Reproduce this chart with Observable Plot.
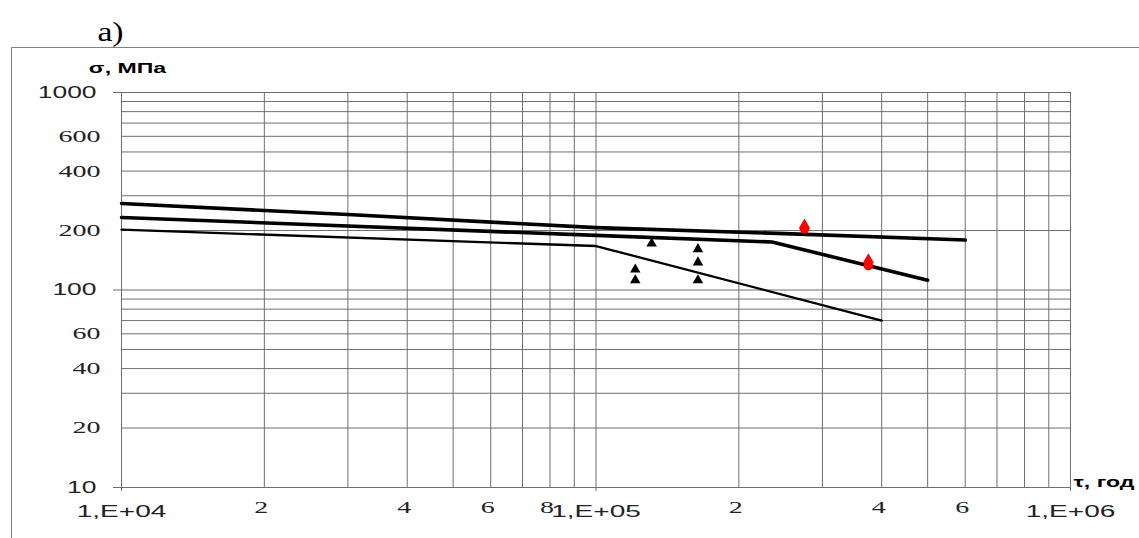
<!DOCTYPE html>
<html><head><meta charset="utf-8">
<script src="https://cdn.jsdelivr.net/npm/d3@7"></script>
<script src="https://cdn.jsdelivr.net/npm/@observablehq/plot@0.6"></script>
<style>
html,body{margin:0;padding:0;background:#fff;overflow:hidden;width:1139px;height:538px;}
#frame{position:absolute;left:11px;top:47px;width:1200px;height:600px;border:1px solid #808080;box-sizing:border-box;}
#chart{position:absolute;left:0;top:0;}
</style></head><body>
<div id="frame"></div><div id="chart"></div>
<script>
const SANS = "'Liberation Sans', Arial, sans-serif";
const SERIF = "'Liberation Serif', 'Times New Roman', serif";

const panelLabel = "а)";
const yTitle = "σ, МПа";
const xTitle = "τ, год";

// tick values and labels
const xMajorTicks = [1e4, 1e5, 1e6];
const xMajorLabels = ["1,E+04", "1,E+05", "1,E+06"];
const xMinorTicks = [2e4, 4e4, 6e4, 8e4, 2e5, 4e5, 6e5];
const xMinorLabels = ["2", "4", "6", "8", "2", "4", "6"];
const xGrid = [1e4, 2e4, 3e4, 4e4, 5e4, 6e4, 7e4, 8e4, 9e4, 1e5, 2e5, 3e5, 4e5, 5e5, 6e5, 7e5, 8e5, 9e5, 1e6];
const yMajorTicks = [10, 100, 1000];
const yMajorLabels = ["10", "100", "1000"];
const yMinorTicks = [20, 40, 60, 200, 400, 600];
const yMinorLabels = ["20", "40", "60", "200", "400", "600"];
const yGrid = [10, 20, 30, 40, 50, 60, 70, 80, 90, 100, 200, 300, 400, 500, 600, 700, 800, 900, 1000];

// curves (tau, sigma in MPa)
const upperTau = [1e4, 3e4, 1e5, 2.5e5, 6e5];
const upperSigma = [274, 241, 207, 193, 179];
const middleTau = [1e4, 1e5, 2.35e5, 5e5];
const middleSigma = [233, 189, 175, 112];
const lowerTau = [1e4, 1e5, 4e5];
const lowerSigma = [202, 167, 70];

// experimental points
const blackTau = [1.21e5, 1.21e5, 1.31e5, 1.64e5, 1.64e5, 1.64e5];
const blackSigma = [127, 112, 172, 161, 138, 112];
const redTriTau = [2.75e5, 3.75e5];
const redTriSigma = [213, 142];
const redDotTau = [2.75e5, 3.75e5];
const redDotSigma = [204, 133];

const rows = (xs, ys) => xs.map((x, i) => ({tau: x, sigma: ys[i]}));
const labelRows = (ticks, labels) => ticks.map((t, i) => ({v: t, label: labels[i]}));
const GRID = "#6e6e6e";
const INK = "#222";

const chart = Plot.plot({
  width: 1139,
  height: 538,
  marginLeft: 121,
  marginRight: 69,
  marginTop: 92,
  marginBottom: 51,
  style: {background: "transparent", overflow: "visible"},
  x: {type: "log", domain: [1e4, 1e6]},
  y: {type: "log", domain: [10, 1000]},
  marks: [
    Plot.ruleX(xGrid, {stroke: GRID, strokeWidth: 1}),
    Plot.ruleY(yGrid, {stroke: GRID, strokeWidth: 1}),
    Plot.axisY(yMajorTicks, {tickSize: 8, stroke: GRID, tickFormat: () => "", label: null}),
    Plot.axisX(xMajorTicks, {tickSize: 4, stroke: GRID, tickFormat: () => "", label: null}),
    Plot.text(labelRows(yMajorTicks, yMajorLabels), {y: "v", text: "label", frameAnchor: "left", dx: -25, textAnchor: "end", lineAnchor: "middle", fill: INK, fontFamily: SANS, fontSize: 16}),
    Plot.text(labelRows(yMinorTicks, yMinorLabels), {y: "v", text: "label", frameAnchor: "left", dx: -21, textAnchor: "end", lineAnchor: "middle", fill: INK, fontFamily: SERIF, fontSize: 17}),
    Plot.text(labelRows(xMajorTicks, xMajorLabels), {x: "v", text: "label", frameAnchor: "bottom", dy: 24, textAnchor: "middle", lineAnchor: "middle", fill: INK, fontFamily: SANS, fontSize: 17}),
    Plot.text(labelRows(xMinorTicks, xMinorLabels), {x: "v", text: "label", frameAnchor: "bottom", dy: 20, dx: -3, textAnchor: "middle", lineAnchor: "middle", fill: INK, fontFamily: SERIF, fontSize: 17}),
    Plot.line(rows(lowerTau, lowerSigma), {x: "tau", y: "sigma", stroke: "#000", strokeWidth: 2.3}),
    Plot.line(rows(middleTau, middleSigma), {x: "tau", y: "sigma", stroke: "#000", strokeWidth: 3.6}),
    Plot.line(rows(upperTau, upperSigma), {x: "tau", y: "sigma", stroke: "#000", strokeWidth: 3.6}),
    Plot.dot(rows(blackTau, blackSigma), {x: "tau", y: "sigma", symbol: "triangle", r: 3.9, fill: "#000", stroke: "none"}),
    Plot.dot(rows(redDotTau, redDotSigma), {x: "tau", y: "sigma", symbol: "circle", r: 4.8, fill: "#ff0000", stroke: "none"}),
    Plot.dot(rows(redTriTau, redTriSigma), {x: "tau", y: "sigma", symbol: "triangle", r: 4.3, fill: "#ff0000", stroke: "none"}),
    Plot.text([panelLabel], {text: d => d, frameAnchor: "top-left", dx: -11, dy: -60, textAnchor: "middle", lineAnchor: "middle", fontFamily: SERIF, fontSize: 27, fill: "#000"}),
    Plot.text([yTitle], {text: d => d, frameAnchor: "top-left", dx: 6, dy: -24, textAnchor: "middle", lineAnchor: "middle", fontFamily: SANS, fontWeight: "bold", fontSize: 14, fill: "#000"}),
    Plot.text([xTitle], {text: d => d, frameAnchor: "bottom-right", dx: 3, dy: -5, textAnchor: "start", lineAnchor: "middle", fontFamily: SANS, fontWeight: "bold", fontSize: 14, fill: "#000"})
  ]
});

document.getElementById("chart").appendChild(chart);

// the reference image is horizontally stretched; widen glyphs accordingly
chart.querySelectorAll("text").forEach(t => {
  const s = t.textContent.trim();
  if (!s) return;
  const f = s === panelLabel ? 1.25 : 1.65;
  const L = t.getComputedTextLength();
  if (L > 0) {
    t.setAttribute("textLength", (L * f).toFixed(1));
    t.setAttribute("lengthAdjust", "spacingAndGlyphs");
  }
});
</script></body></html>
